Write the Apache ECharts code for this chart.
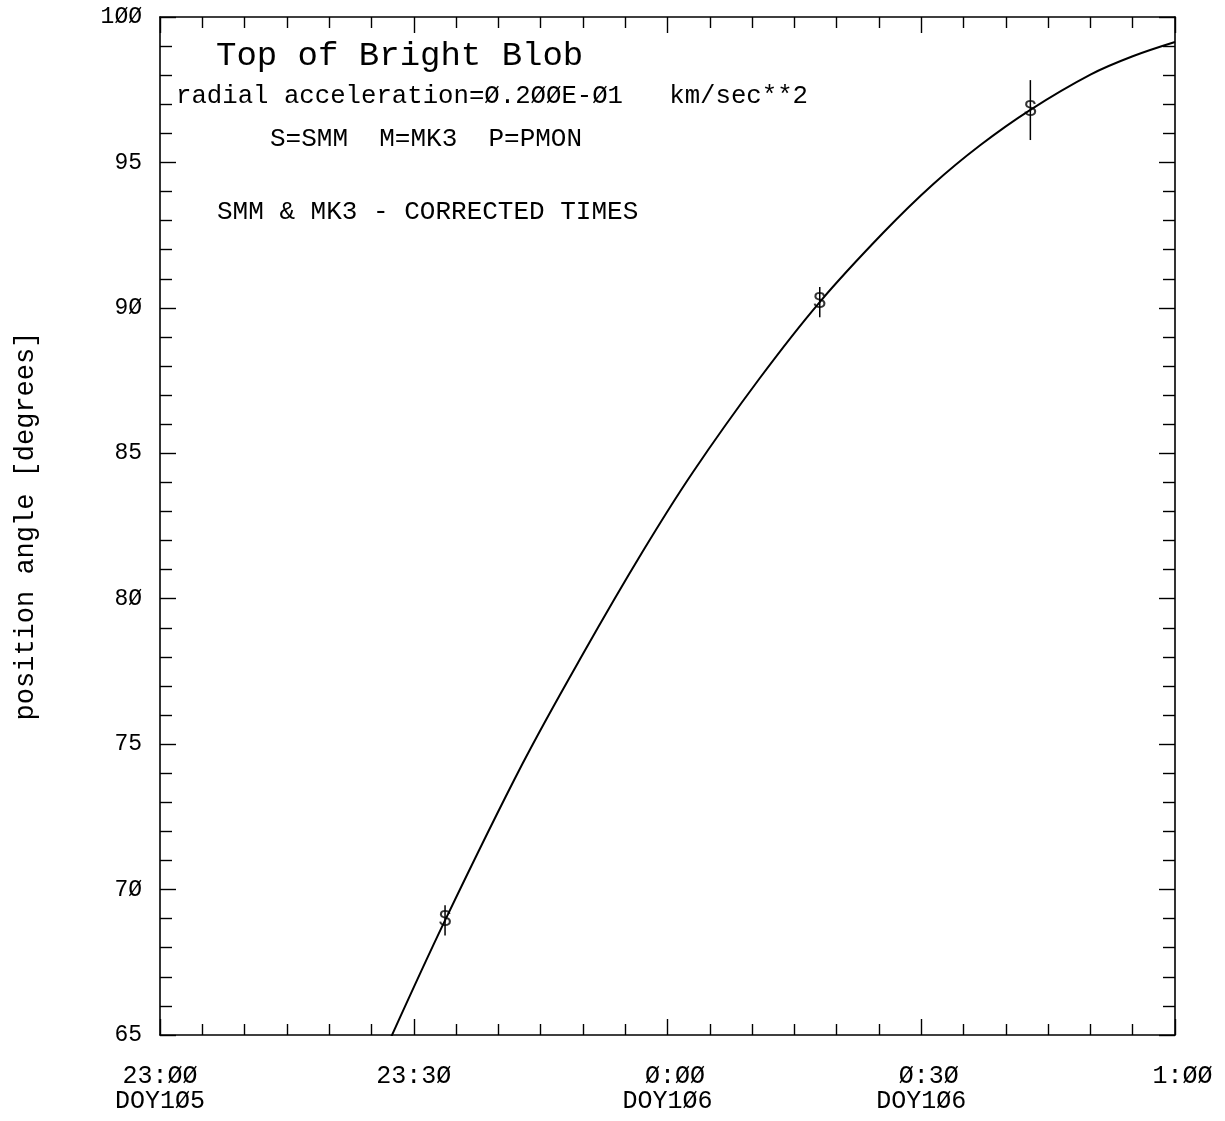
<!DOCTYPE html>
<html>
<head>
<meta charset="utf-8">
<script src="https://cdn.jsdelivr.net/npm/echarts@6/dist/echarts.min.js"></script>
<style>
html,body{margin:0;padding:0;background:#fff;}
#c{width:1225px;height:1121px;}
</style>
</head>
<body>
<div id="c"></div>
<script>
// ---- data (minutes after 23:00 DOY105) ----
const xTickValues = [0, 30, 60, 90, 120];
const xTickLabels = ['23:ØØ\nDOY1Ø5', '23:3Ø', ' Ø:ØØ\nDOY1Ø6', ' Ø:3Ø\nDOY1Ø6', ' 1:ØØ'];
const yTickValues = [65, 70, 75, 80, 85, 90, 95, 100];
const yTickLabels = ['65', '7Ø', '75', '8Ø', '85', '9Ø', '95', '1ØØ'];

// fitted curve
const curveT = [27.2, 33.7, 42.9, 50.0, 57.1, 63.0, 70.9, 78.0, 85.5, 91.4, 97.0, 102.9, 110.0, 115.0, 120.0];
const curveV = [64.85, 68.94, 74.35, 78.10, 81.64, 84.35, 87.58, 90.20, 92.58, 94.25, 95.60, 96.81, 98.02, 98.65, 99.14];

// SMM observations with error bars
const obsT = [33.7, 78.0, 102.9];
const obsV = [68.94, 90.20, 96.80];
const obsErr = [0.52, 0.52, 1.03];
const obsSymbol = ['S', 'S', 'S'];

const noteTexts = [
  'Top of Bright Blob',
  'radial acceleration=Ø.2ØØE-Ø1   km/sec**2',
  'S=SMM  M=MK3  P=PMON',
  'SMM & MK3 - CORRECTED TIMES'
];
const yAxisTitle = 'position angle [degrees]';

// ---- chart ----
const FONT = '"Liberation Mono", "DejaVu Sans Mono", monospace';
const chart = echarts.init(document.getElementById('c'), null, {renderer: 'canvas'});

function xLabel(v) {
  const i = xTickValues.indexOf(v);
  return i >= 0 ? xTickLabels[i] : '';
}
function yLabel(v) {
  const i = yTickValues.indexOf(v);
  return i >= 0 ? yTickLabels[i] : '';
}

const axisLineStyle = {color: '#000', width: 1.6};
const commonX = {
  type: 'value', min: 0, max: 120, interval: 30,
  axisLine: {show: true, onZero: false, lineStyle: axisLineStyle},
  axisTick: {show: true, inside: true, length: 16, lineStyle: {color: '#000', width: 1.4}},
  minorTick: {show: true, splitNumber: 6, length: 11, lineStyle: {color: '#000', width: 1.4}},
  splitLine: {show: false},
  minorSplitLine: {show: false}
};
const commonY = {
  type: 'value', min: 65, max: 100, interval: 5,
  axisLine: {show: true, onZero: false, lineStyle: axisLineStyle},
  axisTick: {show: true, inside: true, length: 16, lineStyle: {color: '#000', width: 1.4}},
  minorTick: {show: true, splitNumber: 5, length: 12, lineStyle: {color: '#000', width: 1.4}},
  splitLine: {show: false},
  minorSplitLine: {show: false}
};

const noteLayout = [
  {x: 216, y: 55.5, size: 34},
  {x: 176, y: 96.5, size: 25.7},
  {x: 270, y: 139.5, size: 26},
  {x: 217, y: 212, size: 26}
];

const option = {
  backgroundColor: '#fff',
  animation: false,
  grid: {left: 160, right: 50, top: 17, bottom: 86, containLabel: false},
  xAxis: [
    Object.assign({}, commonX, {
      position: 'bottom',
      axisLabel: {
        show: true, margin: 29, color: '#000',
        fontFamily: FONT, fontSize: 25, lineHeight: 25,
        formatter: xLabel
      }
    }),
    Object.assign({}, commonX, {position: 'top', axisLabel: {show: false}})
  ],
  yAxis: [
    Object.assign({}, commonY, {
      position: 'left',
      name: yAxisTitle,
      nameLocation: 'middle',
      nameRotate: 90,
      nameGap: 121,
      nameTextStyle: {color: '#000', fontFamily: FONT, fontSize: 27},
      axisLabel: {
        show: true, margin: 18, color: '#000',
        fontFamily: FONT, fontSize: 23,
        formatter: yLabel
      }
    }),
    Object.assign({}, commonY, {position: 'right', axisLabel: {show: false}})
  ],
  graphic: noteTexts.map((t, i) => ({
    type: 'text',
    x: noteLayout[i].x,
    y: noteLayout[i].y,
    silent: true,
    style: {
      text: t,
      fill: '#000',
      font: noteLayout[i].size + 'px ' + FONT,
      align: 'left',
      verticalAlign: 'middle'
    }
  })),
  series: [
    {
      type: 'line',
      xAxisIndex: 0, yAxisIndex: 0,
      data: curveT.map((t, i) => [t, curveV[i]]),
      smooth: 0.35,
      showSymbol: false,
      symbol: 'none',
      clip: true,
      lineStyle: {color: '#000', width: 2},
      z: 3
    },
    {
      type: 'custom',
      xAxisIndex: 0, yAxisIndex: 0,
      data: obsT.map((t, i) => [t, obsV[i] - obsErr[i], obsV[i] + obsErr[i]]),
      encode: {x: 0, y: [1, 2]},
      renderItem: function (params, api) {
        const p1 = api.coord([api.value(0), api.value(1)]);
        const p2 = api.coord([api.value(0), api.value(2)]);
        return {
          type: 'line',
          shape: {x1: p1[0], y1: p1[1], x2: p2[0], y2: p2[1]},
          style: {stroke: '#000', lineWidth: 1.5}
        };
      },
      z: 4
    },
    {
      type: 'scatter',
      xAxisIndex: 0, yAxisIndex: 0,
      data: obsT.map((t, i) => [t, obsV[i]]),
      symbolSize: 1,
      itemStyle: {color: 'rgba(0,0,0,0)'},
      label: {
        show: true, position: 'inside',
        formatter: p => obsSymbol[p.dataIndex],
        color: '#000', fontFamily: FONT, fontSize: 23
      },
      z: 5
    }
  ]
};
chart.setOption(option);
</script>
</body>
</html>
